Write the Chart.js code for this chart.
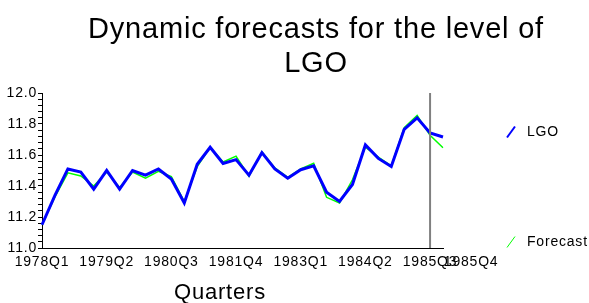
<!DOCTYPE html>
<html>
<head>
<meta charset="utf-8">
<script src="https://cdn.jsdelivr.net/npm/chart.js@4"></script>
<style>
  html, body { margin: 0; padding: 0; background: #fff; }
</style>
</head>
<body>
<canvas id="chart" width="589" height="303"></canvas>
<script>
// Quarter categories
const quarters = [
  "1978Q1", "1978Q2", "1978Q3", "1978Q4",
  "1979Q1", "1979Q2", "1979Q3", "1979Q4",
  "1980Q1", "1980Q2", "1980Q3", "1980Q4",
  "1981Q1", "1981Q2", "1981Q3", "1981Q4",
  "1982Q1", "1982Q2", "1982Q3", "1982Q4",
  "1983Q1", "1983Q2", "1983Q3", "1983Q4",
  "1984Q1", "1984Q2", "1984Q3", "1984Q4",
  "1985Q1", "1985Q2", "1985Q3", "1985Q4",
];

const lgo = [
  11.15, 11.34, 11.51, 11.49, 11.38, 11.50, 11.38, 11.50,
  11.47, 11.51, 11.445, 11.29, 11.54, 11.65, 11.545, 11.57,
  11.47, 11.615, 11.51, 11.45, 11.505, 11.53, 11.36, 11.30,
  11.41, 11.665, 11.578, 11.526, 11.766, 11.84, 11.742, 11.716,
];

// Dynamic forecast series
const forecast = [
  11.15, 11.33, 11.485, 11.465, 11.40, 11.49, 11.39, 11.49,
  11.45, 11.495, 11.46, 11.30, 11.525, 11.65, 11.555, 11.593,
  11.463, 11.62, 11.517, 11.455, 11.51, 11.547, 11.327, 11.29,
  11.44, 11.651, 11.586, 11.53, 11.777, 11.855, 11.727, 11.647,
];

// Labelled quarters on the x axis
const tickQuarters = ["1978Q1", "1979Q2", "1980Q3", "1981Q4", "1983Q1", "1984Q2", "1985Q3", "1985Q4"];
const forecastStart = "1985Q3";

const titleLines = ["Dynamic forecasts for the level of", "LGO"];
const xTitle = "Quarters";

const FONT = '"Liberation Sans", Arial, sans-serif';
Chart.defaults.font.family = FONT;
Chart.defaults.color = "#000";

// slightly looser spacing, like the original
const spacing = {
  id: "spacing",
  beforeLayout(chart) { chart.ctx.letterSpacing = "0.8px"; },
  beforeDraw(chart) { chart.ctx.letterSpacing = "0.8px"; },
};

// titles, forecast marker and side legend
const decor = {
  id: "decor",
  afterDraw(chart) {
    const { ctx, chartArea, scales } = chart;
    ctx.save();

    const fx = scales.x.getPixelForValue(quarters.indexOf(forecastStart));
    ctx.strokeStyle = "#808080";
    ctx.lineWidth = 2;
    ctx.beginPath();
    ctx.moveTo(fx, chartArea.top);
    ctx.lineTo(fx, chartArea.bottom);
    ctx.stroke();

    ctx.fillStyle = "#000";
    ctx.textAlign = "center";
    ctx.textBaseline = "alphabetic";
    ctx.font = "29px " + FONT;
    ctx.fillText(titleLines[0], 316, 38);
    ctx.fillText(titleLines[1], 316, 72);

    ctx.font = "22px " + FONT;
    ctx.fillText(xTitle, 220, 299);

    const legendY = [132, 242];
    ctx.font = "14px " + FONT;
    ctx.textAlign = "left";
    ctx.textBaseline = "middle";
    chart.data.datasets.forEach((ds, i) => {
      const y = legendY[i];
      ctx.strokeStyle = ds.borderColor;
      ctx.lineWidth = i === 0 ? 2 : 1;
      ctx.beginPath();
      ctx.moveTo(507, y + 5.5);
      ctx.lineTo(515, y - 5.5);
      ctx.stroke();
      ctx.fillText(ds.label, 527, y);
    });

    ctx.restore();
  },
};

const ctx = document.getElementById("chart").getContext("2d");
new Chart(ctx, {
  type: "line",
  data: {
    labels: quarters,
    datasets: [
      {
        label: "LGO",
        data: lgo,
        borderColor: "#0000FF",
        borderWidth: 3,
        pointRadius: 0,
        tension: 0,
      },
      {
        label: "Forecast",
        data: forecast,
        borderColor: "#00FF00",
        borderWidth: 1.5,
        pointRadius: 0,
        tension: 0,
      },
    ],
  },
  options: {
    responsive: false,
    animation: false,
    layout: { padding: { top: 93, right: 146, bottom: 0, left: 0 } },
    plugins: {
      legend: { display: false },
      tooltip: { enabled: false },
    },
    scales: {
      x: {
        grid: { display: false, drawTicks: false },
        border: { display: true, color: "#000", width: 1 },
        ticks: {
          autoSkip: false,
          maxRotation: 0,
          padding: 6,
          font: { size: 14 },
          callback: (value, index) => {
            const q = quarters[index];
            if (!tickQuarters.includes(q)) return "";
            // last label sits just right of the forecast marker label
            return index === quarters.length - 1 ? q.padStart(q.length + 12, " ") : q;
          },
        },
        afterFit: (scale) => { scale.height = 55; },
      },
      y: {
        min: 11,
        max: 12,
        grid: { display: true, drawOnChartArea: false, tickLength: 4, color: "#000" },
        border: { display: true, color: "#000", width: 1 },
        ticks: {
          stepSize: 0.04,
          maxTicksLimit: 100,
          autoSkip: false,
          padding: 1,
          font: { size: 14 },
          callback: (value) => {
            const v = value * 5;
            return Math.abs(v - Math.round(v)) < 1e-6 ? value.toFixed(1) : "";
          },
        },
        afterFit: (scale) => { scale.width = 42; },
      },
    },
  },
  plugins: [spacing, decor],
});
</script>
</body>
</html>
